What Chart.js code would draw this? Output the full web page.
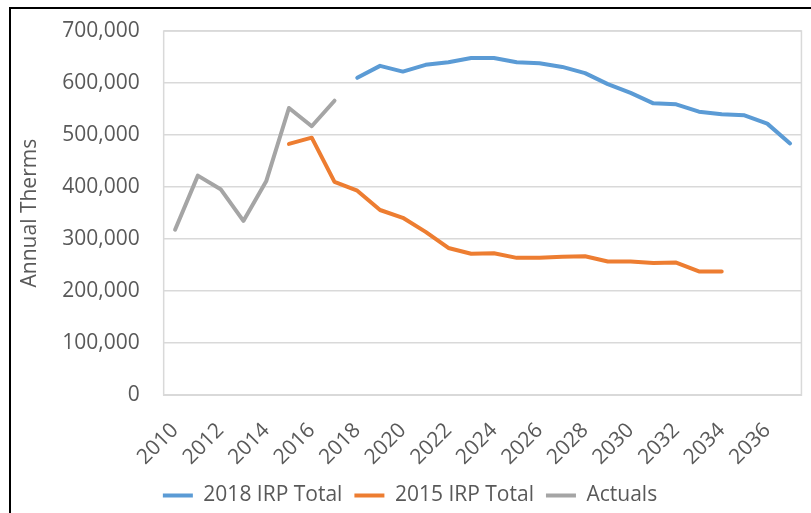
<!DOCTYPE html>
<html>
<head>
<meta charset="utf-8">
<script src="https://cdn.jsdelivr.net/npm/chart.js@4/dist/chart.umd.min.js"></script>
<style>
    html, body { margin: 0; padding: 0; background: #fff; overflow: hidden; }
    #frame {
        position: absolute; left: 9px; top: 7px; width: 900px; height: 600px;
        border-left: 2px solid #000; border-top: 2px solid #000;
    }
    #wrap { position: absolute; left: 0; top: 0; width: 811px; height: 513px; }
</style>
</head>
<body>
<div id="frame"></div>
<div id="wrap"><canvas id="thermsChart" width="811" height="513"></canvas></div>
<script>
// Años del eje X
const years = [];
for (let y = 2010; y <= 2037; y++) years.push(String(y));

// Series (null = sin dato)
const irp2018 = [null, null, null, null, null, null, null, null,
    610000, 633000, 622000, 635000, 640000, 648000, 648000, 640000, 638000, 631000,
    619000, 598000, 581000, 561000, 559000, 545000, 540000, 538000, 522000, 484000];
const irp2015 = [null, null, null, null, null, 483000, 495000, 410000,
    393000, 356000, 341000, 314000, 283000, 272000, 273000, 264000, 264000, 266000,
    267000, 257000, 257000, 254000, 255000, 238000, 238000, null, null, null];
const actuals = [318000, 422000, 396000, 335000, 411000, 552000, 517000, 566000,
    null, null, null, null, null, null, null, null, null, null,
    null, null, null, null, null, null, null, null, null, null];

const textColor = '#595959';
const gridColor = '#d9d9d9';
const font = { family: '"Open Sans", sans-serif', size: 21 };

// Marco del área de trazado
const plotBox = {
    id: 'plotBox',
    afterDatasetsDraw(chart) {
        const a = chart.chartArea;
        const c = chart.ctx;
        c.save();
        c.strokeStyle = gridColor;
        c.lineWidth = 1.5;
        c.strokeRect(a.left, a.top, a.right - a.left, a.bottom - a.top);
        c.restore();
    }
};

const ctx = document.getElementById('thermsChart').getContext('2d');
new Chart(ctx, {
    type: 'line',
    data: {
        labels: years,
        datasets: [
            { label: '2018 IRP Total', data: irp2018, borderColor: '#5B9BD5', backgroundColor: '#5B9BD5' },
            { label: '2015 IRP Total', data: irp2015, borderColor: '#ED7D31', backgroundColor: '#ED7D31' },
            { label: 'Actuals', data: actuals, borderColor: '#A5A5A5', backgroundColor: '#A5A5A5' }
        ]
    },
    options: {
        responsive: false,
        animation: false,
        devicePixelRatio: 1,
        layout: { padding: { top: 31, right: 8, left: 17, bottom: -3 } },
        elements: {
            line: { borderWidth: 4, tension: 0, borderCapStyle: 'round', borderJoinStyle: 'round' },
            point: { radius: 0 }
        },
        scales: {
            x: {
                offset: true,
                grid: {
                    offset: true, drawOnChartArea: false, drawTicks: true,
                    tickLength: 20, color: 'rgba(0,0,0,0)', tickColor: 'rgba(0,0,0,0)'
                },
                border: { color: gridColor },
                ticks: {
                    autoSkip: false,
                    minRotation: 45,
                    maxRotation: 45,
                    color: textColor,
                    font: font,
                    padding: 3,
                    callback: function (val, i) { return i % 2 === 0 ? this.getLabelForValue(val) : ''; }
                }
            },
            y: {
                min: 0,
                max: 700000,
                grid: { color: gridColor, lineWidth: 1.5, drawTicks: true, tickLength: 21, tickColor: 'rgba(0,0,0,0)' },
                border: { color: gridColor },
                ticks: {
                    stepSize: 100000,
                    color: textColor,
                    font: font,
                    padding: 3,
                    callback: v => v.toLocaleString('en-US')
                },
                title: { display: true, text: 'Annual Therms', color: textColor, font: font, padding: { top: 0, bottom: 17 } }
            }
        },
        plugins: {
            legend: {
                position: 'bottom',
                labels: {
                    color: textColor,
                    font: font,
                    boxWidth: 30,
                    boxHeight: 4,
                    padding: 12,
                    generateLabels: chart => Chart.defaults.plugins.legend.labels.generateLabels(chart)
                        .map(item => Object.assign(item, { lineWidth: 0 }))
                }
            },
            tooltip: { enabled: false }
        }
    },
    plugins: [plotBox]
});
</script>
</body>
</html>
